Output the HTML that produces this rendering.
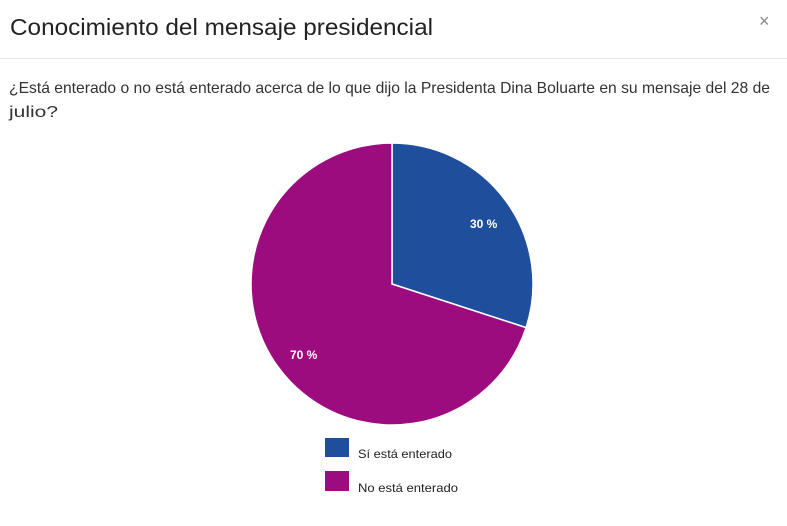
<!DOCTYPE html>
<html><head><meta charset="utf-8"><style>html,body{margin:0;padding:0;background:#fff;}</style></head>
<body>
<svg width="787" height="521" xmlns="http://www.w3.org/2000/svg" font-family="Liberation Sans, sans-serif">
<rect width="787" height="521" fill="#fff"/>
<text x="10" y="35" font-size="23" fill="#222" textLength="423" lengthAdjust="spacingAndGlyphs">Conocimiento del mensaje presidencial</text>
<text x="759" y="27" font-size="18" fill="#888">×</text>
<line x1="0" y1="58.5" x2="787" y2="58.5" stroke="#e5e5e5" stroke-width="1"/>
<text x="9" y="93" font-size="16" fill="#333" textLength="761" lengthAdjust="spacingAndGlyphs">¿Está enterado o no está enterado acerca de lo que dijo la Presidenta Dina Boluarte en su mensaje del 28 de</text>
<text x="9" y="117" font-size="16" fill="#333" textLength="49" lengthAdjust="spacingAndGlyphs">julio?</text>
<path d="M392,284 L392,143 A141,141 0 0 1 526.1,327.6 Z" fill="#1f4e9c" stroke="#fff" stroke-width="1.5"/>
<path d="M392,284 L526.1,327.6 A141,141 0 1 1 392,143 Z" fill="#9c0c7f" stroke="#fff" stroke-width="1.5"/>
<text x="470" y="228" font-size="12" font-weight="bold" fill="#fff">30 %</text>
<text x="290" y="359" font-size="12" font-weight="bold" fill="#fff">70 %</text>
<rect x="325" y="438" width="24" height="19" fill="#1f4e9c"/>
<rect x="325" y="471" width="24" height="20" fill="#9c0c7f"/>
<text x="358" y="458" font-size="12" fill="#222" textLength="94" lengthAdjust="spacingAndGlyphs">Sí está enterado</text>
<text x="358" y="492" font-size="12" fill="#222" textLength="100" lengthAdjust="spacingAndGlyphs">No está enterado</text>
</svg>
</body></html>
